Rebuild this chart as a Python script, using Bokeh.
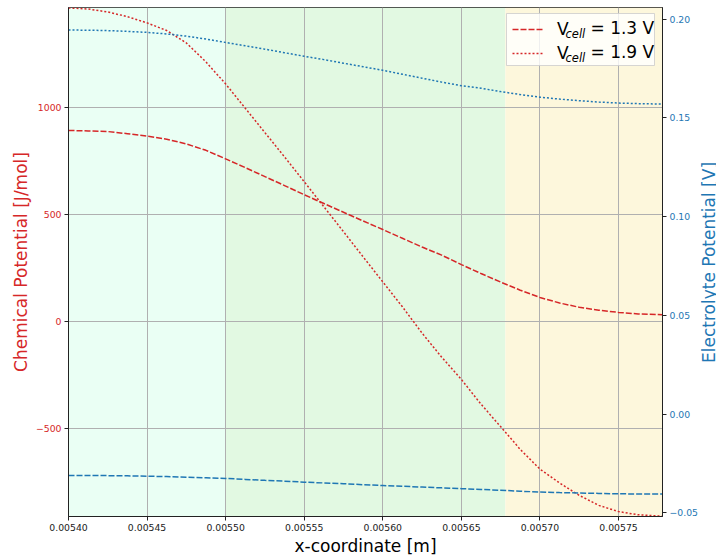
import math
from bokeh.plotting import figure
from bokeh.layouts import row
from bokeh.models import (Range1d, LinearAxis, FixedTicker, BoxAnnotation,
                          Legend, LegendItem, Label)
from bokeh.embed import file_html
from bokeh.resources import INLINE

# ---------------- data ----------------
x_coord = [0.0054000, 0.0054125, 0.0054250, 0.0054375, 0.0054500, 0.0054625,
           0.0054750, 0.0054875, 0.0055000, 0.0055125, 0.0055250, 0.0055375,
           0.0055500, 0.0055625, 0.0055750, 0.0055875, 0.0056000, 0.0056125,
           0.0056250, 0.0056375, 0.0056500, 0.0056625, 0.0056750, 0.0056875,
           0.0057000, 0.0057125, 0.0057250, 0.0057375, 0.0057500, 0.0057625,
           0.0057780]

# chemical potential [J/mol]
mu_13 = [894, 892, 889, 879, 868, 853, 831, 801, 761, 720, 678, 636, 593, 552,
         511, 470, 430, 389, 348, 310, 266, 224, 184, 146, 112, 86, 66, 52, 42,
         35, 31]
mu_19 = [1468, 1463, 1449, 1427, 1398, 1362, 1304, 1215, 1112, 998, 884, 770,
         654, 537, 420, 302, 185, 68, -55, -168, -272, -388, -493, -600, -692,
         -757, -815, -862, -891, -906, -913]

# electrolyte potential [V]
phi_13 = [-0.0311, -0.0311, -0.0312, -0.0313, -0.0315, -0.0317, -0.0320,
          -0.0323, -0.0326, -0.0331, -0.0336, -0.0340, -0.0345, -0.0349,
          -0.0353, -0.0358, -0.0362, -0.0366, -0.0370, -0.0374, -0.0378,
          -0.0382, -0.0386, -0.0391, -0.0395, -0.0398, -0.0400, -0.0402,
          -0.0404, -0.0405, -0.0405]
phi_19 = [0.1945, 0.1944, 0.1942, 0.1938, 0.1933, 0.1925, 0.1914, 0.1899,
          0.1882, 0.1865, 0.1848, 0.1830, 0.1812, 0.1795, 0.1777, 0.1759,
          0.1741, 0.1721, 0.1701, 0.1681, 0.1663, 0.1650, 0.1633, 0.1618,
          0.1605, 0.1595, 0.1587, 0.1580, 0.1575, 0.1572, 0.1570]

# background regions (x edges) and their colours
region_edges = [0.00540, 0.00550, 0.005678, 0.005778]
region_colors = ["#eafff4", "#e2f9e2", "#fdf7dc"]

x_ticks = [0.00540, 0.00545, 0.00550, 0.00555, 0.00560, 0.00565, 0.00570, 0.00575]
x_tick_labels = ["0.00540", "0.00545", "0.00550", "0.00555", "0.00560",
                 "0.00565", "0.00570", "0.00575"]
mu_ticks = [-500, 0, 500, 1000]
mu_tick_labels = ["\u2212500", "0", "500", "1000"]
phi_ticks = [-0.05, 0.0, 0.05, 0.10, 0.15, 0.20]
phi_tick_labels = ["\u22120.05", "0.00", "0.05", "0.10", "0.15", "0.20"]

legend_voltages = ["1.3", "1.9"]

x_min, x_max = 0.00540, 0.005778
mu_min, mu_max = -914, 1470
phi_min, phi_max = -0.0519, 0.2059

# ---------------- styling ----------------
RED = "#d62728"
BLUE = "#1f77b4"
FONT = "DejaVu Sans"
W, H = 716, 558
W_TITLE = 16                     # strip at the right holding the right-axis title
W_MAIN = W - W_TITLE
BL, BR, BT, BB = 68, 38, 7, 40
FW, FH = W_MAIN - BL - BR, H - BT - BB

p = figure(width=W_MAIN, height=H, output_backend="svg", toolbar_location=None,
           x_range=Range1d(x_min, x_max), y_range=Range1d(mu_min, mu_max),
           min_border_left=BL, min_border_right=BR, min_border_top=BT,
           min_border_bottom=BB)
p.extra_y_ranges = {"phi": Range1d(phi_min, phi_max)}
p.background_fill_color = "white"
p.border_fill_color = "white"
p.outline_line_color = "#222222"
p.outline_line_width = 1

# background bands
for i, c in enumerate(region_colors):
    p.add_layout(BoxAnnotation(left=region_edges[i], right=region_edges[i + 1],
                               fill_color=c, fill_alpha=1.0, line_alpha=0,
                               level="image"))

# grid
p.xgrid.grid_line_color = "#b0b0b0"
p.ygrid.grid_line_color = "#b0b0b0"
p.xgrid.grid_line_width = 1
p.ygrid.grid_line_width = 1
p.xgrid.ticker = FixedTicker(ticks=x_ticks)
p.ygrid.ticker = FixedTicker(ticks=mu_ticks)

def style_axis(ax, color, label_color):
    ax.axis_line_color = "#222222"
    ax.major_tick_line_color = "#222222"
    ax.major_tick_out = 4
    ax.major_tick_in = 0
    ax.minor_tick_line_color = None
    ax.major_label_text_font = FONT
    ax.major_label_text_font_size = "9.3px"
    ax.major_label_text_color = color
    ax.major_label_standoff = 3
    ax.axis_label_text_font = FONT
    ax.axis_label_text_font_size = "17px"
    ax.axis_label_text_font_style = "normal"
    ax.axis_label_text_color = label_color
    ax.axis_label_standoff = 4

# x axis
xa = p.xaxis[0]
xa.ticker = FixedTicker(ticks=x_ticks)
xa.major_label_overrides = dict(zip(x_ticks, x_tick_labels))
xa.axis_label = "x-coordinate [m]"
style_axis(xa, "#222222", "black")
xa.axis_label_standoff = 2

# left axis
ya = p.yaxis[0]
ya.ticker = FixedTicker(ticks=mu_ticks)
ya.major_label_overrides = dict(zip(mu_ticks, mu_tick_labels))
ya.axis_label = "Chemical Potential [J/mol]"
style_axis(ya, RED, RED)
ya.axis_label_standoff = 2

# right axis (ticks only; its title sits in the strip to the right)
ra = LinearAxis(y_range_name="phi")
ra.ticker = FixedTicker(ticks=phi_ticks)
ra.major_label_overrides = dict(zip(phi_ticks, phi_tick_labels))
style_axis(ra, BLUE, BLUE)
p.add_layout(ra, "right")

# lines
r13 = p.line(x_coord, mu_13, line_color=RED, line_width=1.5, line_dash="6 2")
r19 = p.line(x_coord, mu_19, line_color=RED, line_width=1.5, line_dash="2 2")
p.line(x_coord, phi_13, line_color=BLUE, line_width=1.5, line_dash="6 2",
       y_range_name="phi")
p.line(x_coord, phi_19, line_color=BLUE, line_width=1.5, line_dash="2 2",
       y_range_name="phi")

# legend frame (drawn separately so the legend texts stay on top of it)
p.add_layout(BoxAnnotation(left=FW - 156, right=FW - 8, top=FH - 8,
                           bottom=FH - 60, left_units="screen",
                           right_units="screen", top_units="screen",
                           bottom_units="screen", fill_color="white",
                           fill_alpha=0.8, line_color="#cccccc",
                           line_alpha=0.8, line_width=1, level="guide"))

# legend: sample + "V", then subscript "cell" and "= x V" as labels
legend = Legend(items=[LegendItem(label="V", renderers=[r13]),
                       LegendItem(label="V", renderers=[r19])],
                location="top_right", margin=8, padding=4, spacing=4,
                glyph_width=31, glyph_height=20, label_height=20,
                label_width=93, label_standoff=14,
                label_text_font=FONT, label_text_font_size="17px",
                label_text_color="black",
                border_line_alpha=0, background_fill_alpha=0)
p.add_layout(legend)

row_from_top = [22, 46]
for i, v in enumerate(legend_voltages):
    yc = FH - row_from_top[i]
    p.add_layout(Label(x=x_max, x_units="data", x_offset=-97,
                       y=yc - 6, y_units="screen", text="cell",
                       text_font=FONT, text_font_size="11.5px",
                       text_font_style="italic", text_baseline="middle",
                       text_color="black"))
    p.add_layout(Label(x=x_max, x_units="data", x_offset=-72,
                       y=yc, y_units="screen", text="= " + v + " V",
                       text_font=FONT, text_font_size="17px",
                       text_baseline="middle", text_color="black"))

# strip holding the right-axis title, read bottom-to-top, centred on the frame
t = figure(width=W_TITLE, height=H, output_backend="svg", toolbar_location=None,
           x_axis_type=None, y_axis_type=None, min_border=0,
           min_border_left=0, min_border_right=0, min_border_top=0,
           min_border_bottom=0)
t.outline_line_color = None
t.background_fill_color = "white"
t.border_fill_color = "white"
t.add_layout(Label(x=8.5, y=BB + FH / 2 - 41.5, x_units="screen",
                   y_units="screen", text="Electrolyte Potential [V]",
                   angle=math.pi / 2, text_align="center",
                   text_baseline="alphabetic", text_font=FONT,
                   text_font_size="17px", text_color=BLUE))

layout = row(p, t, spacing=0)

open("out.html", "w").write(file_html(layout, INLINE))
